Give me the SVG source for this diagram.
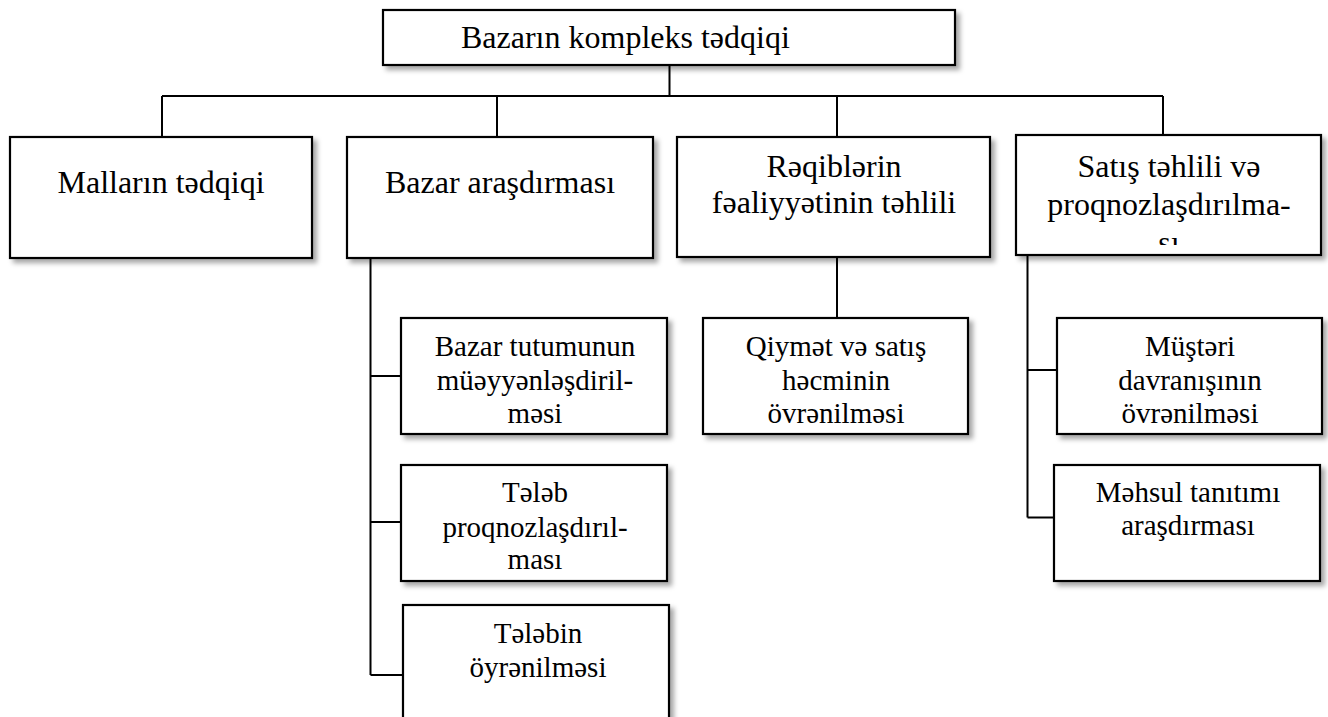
<svg xmlns="http://www.w3.org/2000/svg" width="1328" height="717" viewBox="0 0 1328 717">
<defs>
<filter id="sh" x="-10%" y="-10%" width="130%" height="130%">
<feDropShadow dx="4" dy="4" stdDeviation="2.5" flood-color="#000" flood-opacity="0.35"/>
</filter>
<clipPath id="clip4"><rect x="1016" y="135" width="305" height="110"/></clipPath>
</defs>
<style>
.box{fill:#fff;stroke:#000;stroke-width:2.2;filter:url(#sh)}
.ln{fill:none;stroke:#000;stroke-width:2}
text{font-family:'Liberation Serif','DejaVu Serif',serif;fill:#000;text-anchor:middle}
.t{font-size:32px}
.s{font-size:29px}
</style>
<rect width="1328" height="717" fill="#fff"/>
<g id="connectors">
<path class="ln" d="M669.5,65 V96 M162,96 H1163 M162,96 V137 M497,96 V137 M837,96 V137 M1163,96 V135"/>
<path class="ln" d="M370.5,258 V675 M370.5,376 H401 M370.5,522 H401 M370.5,675 H403"/>
<path class="ln" d="M837,257 V318"/>
<path class="ln" d="M1027.5,255 V517.5 M1027.5,370 H1057 M1027.5,517.5 H1054"/>
</g>
<g id="root">
<rect class="box" x="383" y="10" width="572" height="55"/>
<text class="t" x="461" y="48" style="text-anchor:start">Bazarın kompleks tədqiqi</text>
</g>
<g id="n1">
<rect class="box" x="10" y="137" width="302" height="121"/>
<text class="t" x="161" y="193">Malların tədqiqi</text>
</g>
<g id="n2">
<rect class="box" x="347" y="137" width="306" height="121"/>
<text class="t" x="500" y="193">Bazar araşdırması</text>
</g>
<g id="n3">
<rect class="box" x="677" y="137" width="313" height="120"/>
<text class="t" x="834" y="177">Rəqiblərin</text>
<text class="t" x="834" y="213">fəaliyyətinin təhlili</text>
</g>
<g id="n4">
<rect class="box" x="1016" y="135" width="305" height="120"/>
<text class="t" x="1169" y="177">Satış təhlili və</text>
<text class="t" x="1169" y="215">proqnozlaşdırılma-</text>
<text class="t" x="1169" y="253" clip-path="url(#clip4)">sı</text>
</g>
<g id="n2a">
<rect class="box" x="401" y="318" width="266" height="116"/>
<text class="s" x="535" y="356">Bazar tutumunun</text>
<text class="s" x="535" y="390">müəyyənləşdiril-</text>
<text class="s" x="535" y="423">məsi</text>
</g>
<g id="n2b">
<rect class="box" x="401" y="465" width="266" height="116"/>
<text class="s" x="535" y="502">Tələb</text>
<text class="s" x="535" y="537">proqnozlaşdırıl-</text>
<text class="s" x="535" y="569">ması</text>
</g>
<g id="n2c">
<rect class="box" x="403" y="605" width="266" height="130"/>
<text class="s" x="538" y="643">Tələbin</text>
<text class="s" x="538" y="677">öyrənilməsi</text>
</g>
<g id="n3a">
<rect class="box" x="703" y="318" width="265" height="116"/>
<text class="s" x="836" y="356">Qiymət və satış</text>
<text class="s" x="836" y="390">həcminin</text>
<text class="s" x="836" y="423">övrənilməsi</text>
</g>
<g id="n4a">
<rect class="box" x="1057" y="318" width="265" height="116"/>
<text class="s" x="1190" y="356">Müştəri</text>
<text class="s" x="1190" y="390">davranışının</text>
<text class="s" x="1190" y="423">övrənilməsi</text>
</g>
<g id="n4b">
<rect class="box" x="1054" y="465" width="266" height="116"/>
<text class="s" x="1188" y="502">Məhsul tanıtımı</text>
<text class="s" x="1188" y="535">araşdırması</text>
</g>
</svg>
